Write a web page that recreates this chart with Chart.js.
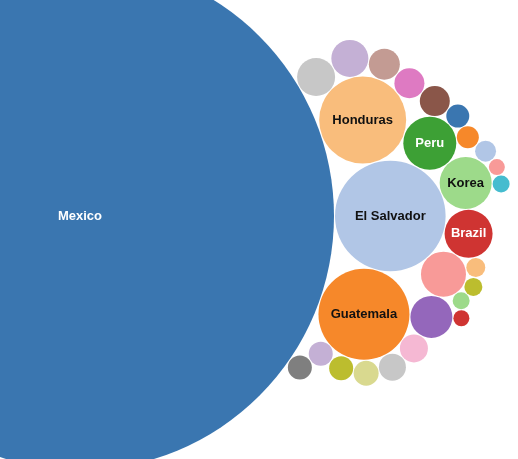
<!DOCTYPE html>
<html>
<head>
<meta charset="utf-8">
<script src="https://cdn.jsdelivr.net/npm/chart.js@4.4.1/dist/chart.umd.min.js"></script>
<style>
  html, body { margin: 0; padding: 0; background: #fff; }
  #wrap { width: 518px; height: 459px; }
</style>
</head>
<body>
<div id="wrap"><canvas id="bubbleChart"></canvas></div>
<script>
// Packed bubble chart: one circle per country, area proportional to value

const names = [
    'Mexico', 'El Salvador', 'Guatemala', 'Honduras', 'Peru', 'Korea', 'Brazil',
    'Country 8', 'Country 9', 'Country 10', 'Country 11', 'Country 12', 'Country 13',
    'Country 14', 'Country 15', 'Country 16', 'Country 17', 'Country 18', 'Country 19',
    'Country 20', 'Country 21', 'Country 22', 'Country 23', 'Country 24', 'Country 25',
    'Country 26', 'Country 27', 'Country 28', 'Country 29'
];
const values = [
    64516, 3058, 2070, 1892, 702, 676, 576,
    506, 441, 196, 182, 156, 144,
    144, 144, 361, 342, 240, 225,
    225, 132, 121, 110, 64, 72,
    90, 81, 72, 64
];

// category20-like colours, one per circle
const colors = [
    '#3a76b0', '#b1c6e6', '#f6882a', '#f9bd7c', '#3da035', '#9dda8a', '#cf3432',
    '#f89a98', '#9467bb', '#f5b8d3', '#c7c7c7', '#d9d98f', '#bcbd2e',
    '#c4b0d5', '#7f7f7f', '#c7c7c7', '#c4b0d5', '#c39b93', '#de7ac2',
    '#8a5649', '#3a76b0', '#f6882a', '#b1c6e6', '#f89a98', '#45bccf',
    '#f9bd7c', '#bcbd2e', '#9dda8a', '#cf3432'
];

// Packing layout: each circle sits tangent to two earlier circles [a, b],
// on the right-hand side of the a -> b direction
const packParents = [
    null, null, [0, 1], [1, 0], [1, 3], [1, 4], [1, 5],
    [1, 6], [2, 7], [2, 8], [2, 9], [2, 10], [2, 11],
    [2, 12], [0, 13], [3, 0], [3, 15], [3, 16], [3, 17],
    [4, 18], [4, 19], [4, 20], [5, 21], [5, 22], [5, 23],
    [7, 6], [7, 25], [7, 26], [8, 27]
];

const R_MAX = 254;
const PAD = 1;
const LABEL_MIN_R = 23.5;

const vMax = Math.max(...values);
const radius = v => R_MAX * Math.sqrt(v / vMax);

const nodes = values.map(v => ({ r: radius(v), x: 0, y: 0 }));
nodes[1].x = nodes[0].r + nodes[1].r + PAD;

function place(a, b, c) {
    const dx = b.x - a.x, dy = b.y - a.y;
    const d = Math.sqrt(dx * dx + dy * dy);
    const da = a.r + c.r + PAD, db = b.r + c.r + PAD;
    const along = (d * d + da * da - db * db) / (2 * d);
    const h = Math.sqrt(Math.max(0, da * da - along * along));
    const ux = dx / d, uy = dy / d;
    c.x = a.x + along * ux - h * uy;
    c.y = a.y + along * uy + h * ux;
}

for (let i = 2; i < nodes.length; i++) {
    const [a, b] = packParents[i];
    place(nodes[a], nodes[b], nodes[i]);
}

function isDark(hex) {
    const n = parseInt(hex.slice(1), 16);
    const r = n >> 16, g = (n >> 8) & 255, b = n & 255;
    return 0.299 * r + 0.587 * g + 0.114 * b < 140;
}

const labelPlugin = {
    id: 'bubbleLabels',
    afterDatasetsDraw(chart) {
        const ctx = chart.ctx;
        const meta = chart.getDatasetMeta(0);
        ctx.save();
        ctx.font = 'bold 13px "Liberation Sans", Arial, sans-serif';
        ctx.textAlign = 'center';
        ctx.textBaseline = 'middle';
        meta.data.forEach((el, i) => {
            if (nodes[i].r < LABEL_MIN_R) return;
            ctx.fillStyle = isDark(colors[i]) ? '#ffffff' : '#111111';
            ctx.fillText(names[i], el.x, el.y);
        });
        ctx.restore();
    }
};

const ctx = document.getElementById('bubbleChart').getContext('2d');
const bubbleChart = new Chart(ctx, {
    type: 'bubble',
    data: {
        labels: names,
        datasets: [{
            data: nodes.map(n => ({ x: n.x, y: n.y, r: n.r })),
            backgroundColor: colors,
            borderWidth: 0,
            hoverBorderWidth: 0,
            hoverRadius: 0,
            clip: false
        }]
    },
    options: {
        responsive: true,
        maintainAspectRatio: false,
        animation: false,
        events: [],
        layout: { padding: 0, autoPadding: false },
        plugins: {
            legend: { display: false },
            tooltip: { enabled: false }
        },
        scales: {
            x: { type: 'linear', display: false, min: -80, max: 438 },
            y: { type: 'linear', display: false, min: -216, max: 243, reverse: true }
        }
    },
    plugins: [labelPlugin]
});
</script>
</body>
</html>
